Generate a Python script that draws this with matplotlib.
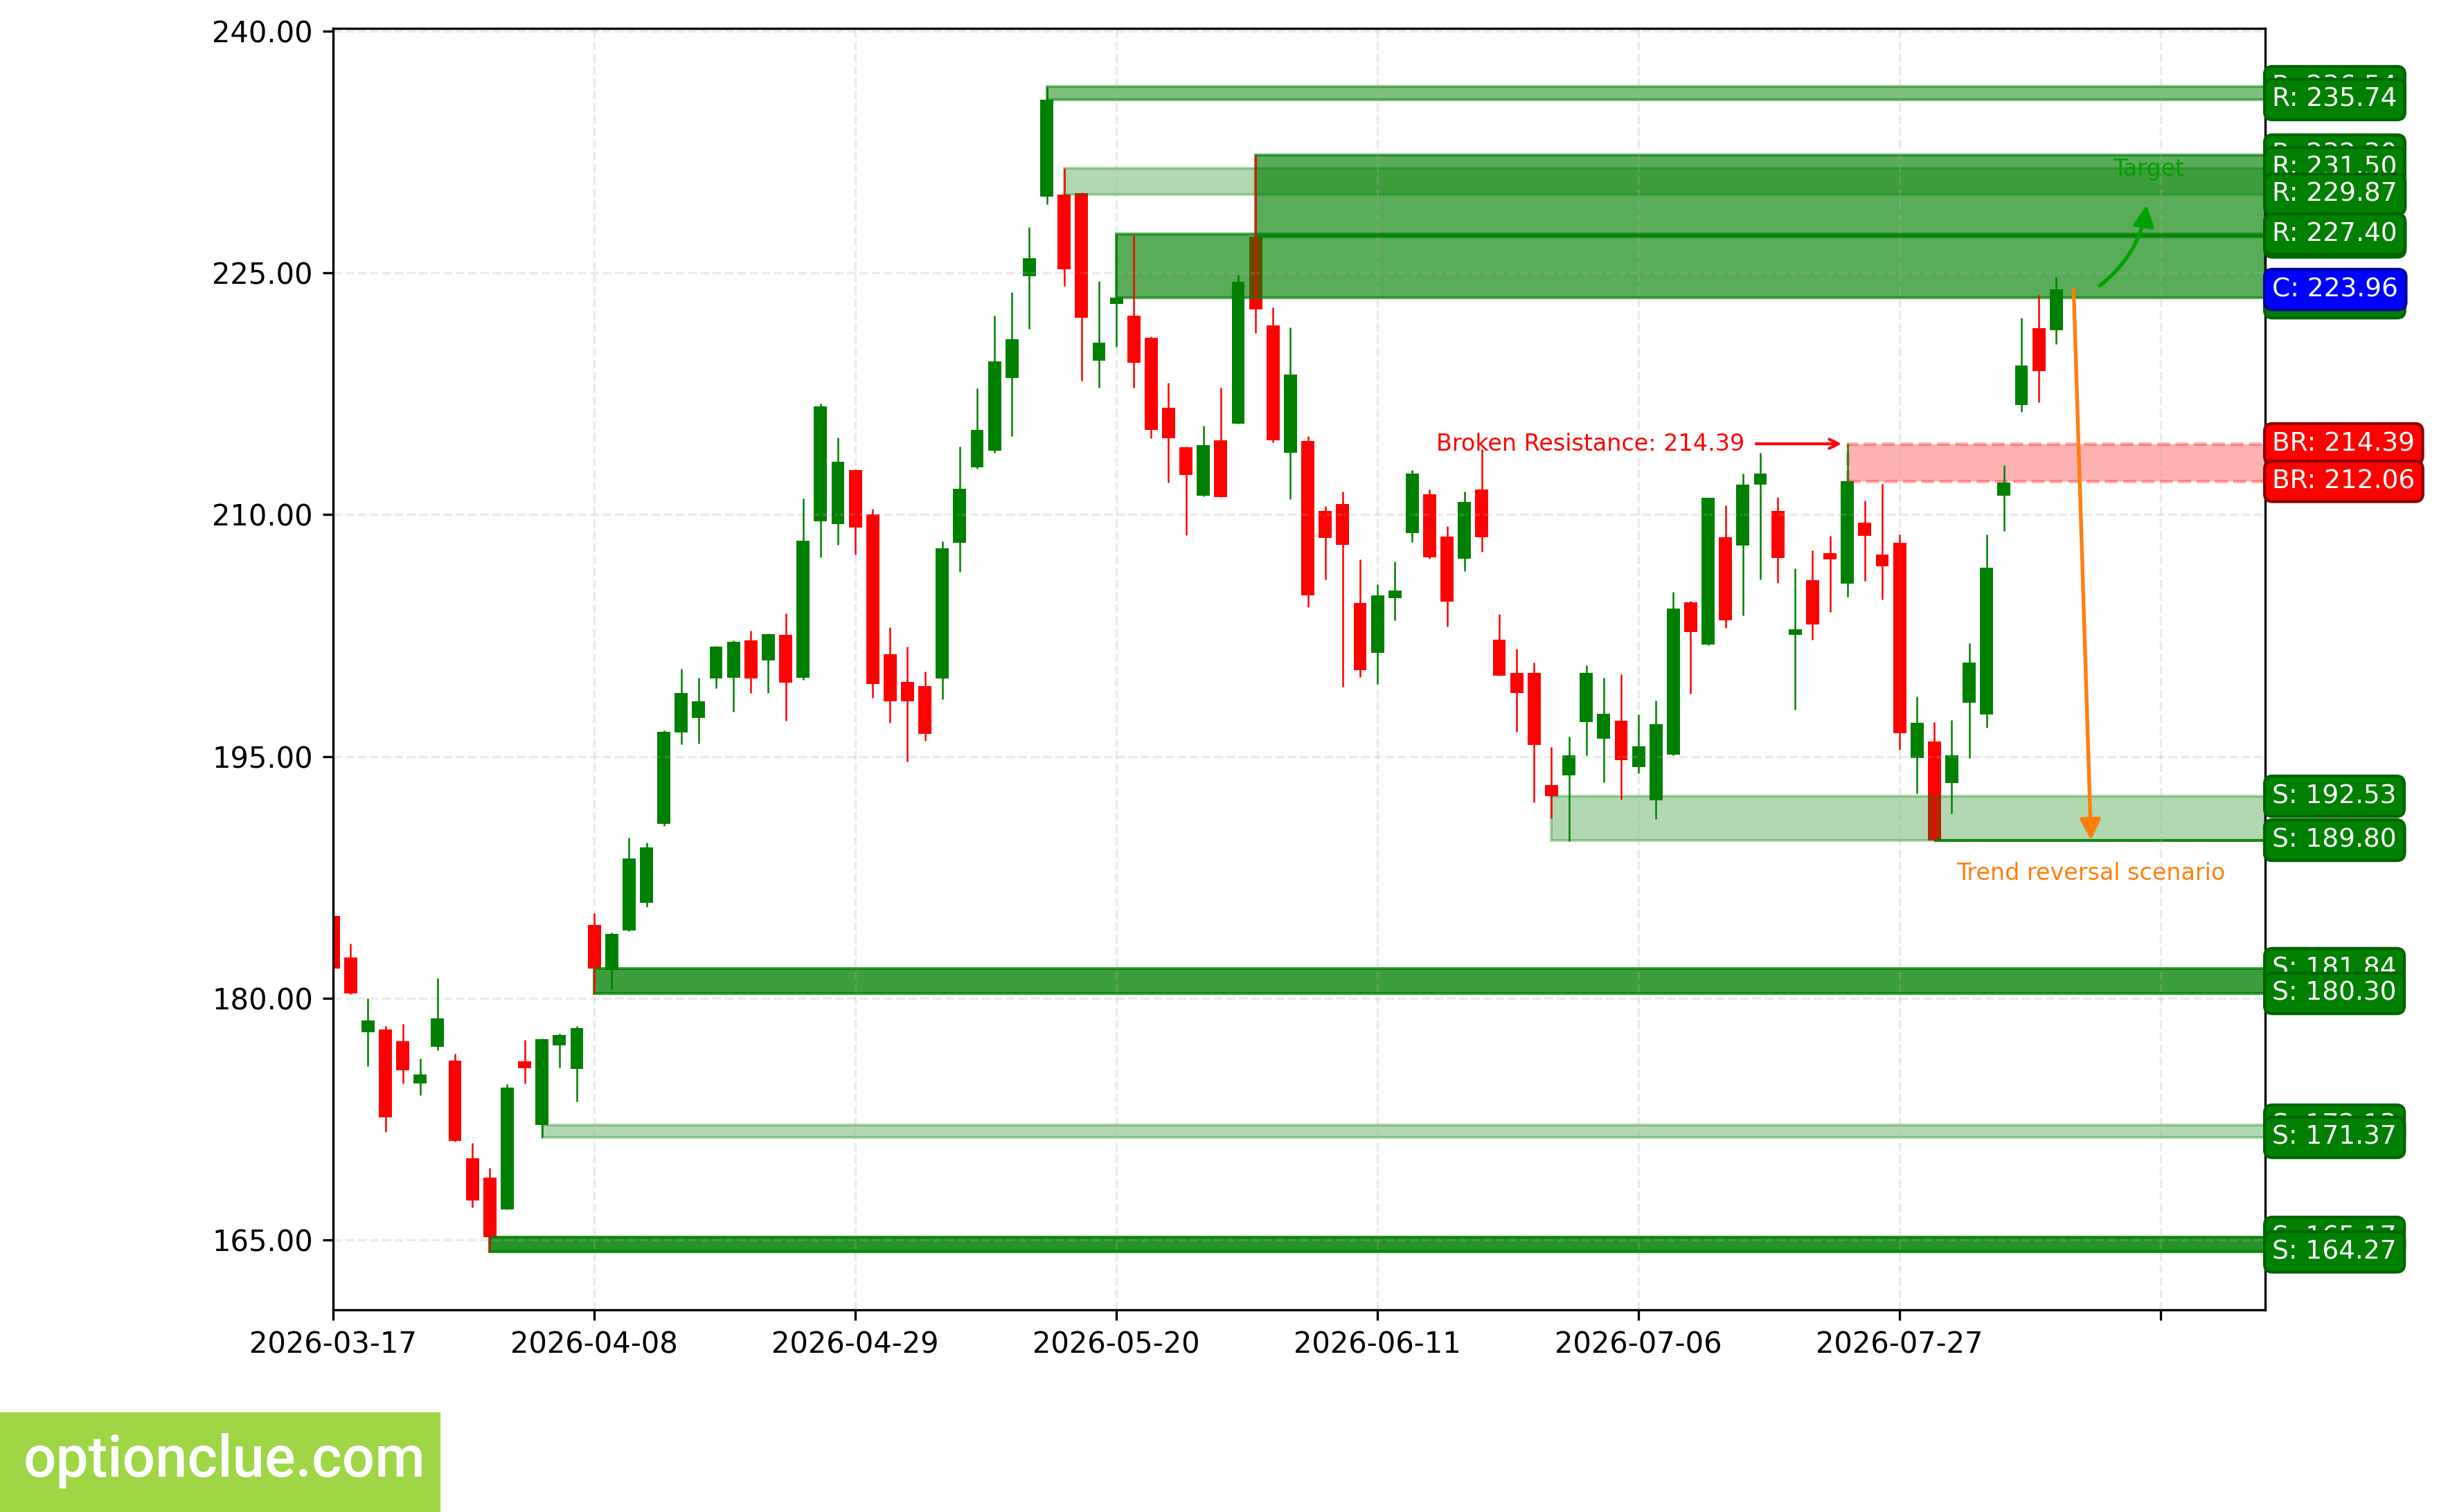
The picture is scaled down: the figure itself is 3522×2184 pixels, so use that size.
import numpy as np
import pandas as pd
import matplotlib
matplotlib.use("Agg")
import matplotlib.pyplot as plt
from matplotlib.patches import Rectangle

# ---------------- data ----------------
opens = [185.11, 182.53, 177.89, 178.07, 177.34, 174.73, 177.01, 176.13, 170.08, 168.87,
         166.92, 176.09, 172.13, 177.07, 175.61, 184.54, 181.74, 184.20, 185.92, 190.80,
         196.48, 197.37, 199.82, 199.90, 202.20, 200.94, 202.56, 199.90, 209.59, 209.41,
         212.78, 210.00, 201.36, 199.60, 199.38, 199.82, 208.24, 212.94, 213.97, 218.49,
         224.80, 229.71, 229.87, 229.92, 219.53, 223.06, 222.35, 220.97, 216.61, 214.19,
         211.19, 214.61, 215.62, 227.22, 221.75, 213.83, 214.56, 210.23, 210.66, 204.53,
         201.42, 204.81, 208.86, 211.25, 208.63, 207.27, 211.55, 202.26, 200.19, 200.16,
         193.22, 193.81, 197.14, 196.12, 197.23, 194.36, 192.29, 195.11, 204.54, 201.92,
         208.61, 208.09, 211.88, 210.24, 202.56, 205.92, 207.62, 205.73, 209.50, 207.52,
         208.26, 194.90, 195.91, 193.35, 198.34, 197.62, 211.19, 216.80, 221.57, 221.42]
highs = [185.25, 183.39, 180.00, 178.26, 178.41, 176.26, 181.23, 176.55, 171.02, 169.48,
         174.67, 177.41, 177.49, 177.80, 178.26, 185.27, 184.07, 189.98, 189.64, 196.62,
         200.45, 199.90, 201.85, 202.20, 202.82, 202.62, 203.88, 210.99, 216.87, 214.76,
         212.80, 210.34, 203.03, 201.79, 200.27, 208.32, 214.24, 217.82, 222.33, 223.79,
         227.85, 236.54, 231.50, 229.99, 224.50, 227.40, 227.30, 221.04, 218.19, 214.20,
         215.52, 217.89, 224.87, 232.30, 222.83, 221.62, 214.87, 210.51, 211.44, 207.23,
         205.68, 207.11, 212.75, 211.55, 209.27, 211.43, 214.05, 203.81, 201.69, 200.83,
         195.59, 196.23, 200.67, 199.89, 200.10, 197.60, 198.48, 205.22, 204.63, 211.05,
         210.59, 212.55, 213.84, 211.10, 206.66, 207.78, 208.69, 214.39, 210.88, 211.91,
         208.76, 198.72, 197.12, 197.26, 202.01, 208.76, 213.08, 222.21, 223.64, 224.76]
lows = [181.80, 180.25, 175.77, 171.69, 174.73, 173.97, 176.78, 171.13, 167.01, 164.27,
        166.90, 174.73, 171.37, 175.69, 173.62, 180.30, 180.57, 184.15, 185.65, 190.70,
        195.75, 195.79, 199.24, 197.78, 198.95, 198.95, 197.21, 199.76, 207.34, 208.14,
        207.53, 198.65, 197.09, 194.70, 195.99, 198.55, 206.47, 212.84, 213.83, 214.87,
        221.52, 229.26, 224.19, 218.32, 217.87, 220.41, 217.87, 214.74, 211.97, 208.74,
        211.14, 211.09, 215.62, 221.27, 214.46, 210.96, 204.28, 205.97, 199.34, 199.92,
        199.51, 203.44, 208.31, 207.27, 203.04, 206.49, 207.70, 199.99, 196.55, 192.13,
        191.18, 189.76, 195.07, 193.41, 192.34, 193.95, 191.13, 195.05, 198.91, 201.90,
        202.95, 203.75, 205.97, 205.75, 197.91, 202.25, 203.94, 204.92, 205.90, 204.75,
        195.40, 192.71, 189.80, 191.47, 194.90, 196.79, 209.00, 216.37, 216.96, 220.59]
closes = [181.86, 180.29, 178.62, 172.62, 175.54, 175.27, 178.74, 171.17, 167.47, 165.17,
          174.44, 175.67, 177.45, 177.72, 178.14, 181.84, 183.97, 188.66, 189.35, 196.55,
          198.95, 198.43, 201.79, 202.13, 199.82, 202.60, 199.56, 208.36, 216.69, 213.26,
          209.19, 199.50, 198.42, 198.42, 196.42, 207.93, 211.58, 215.27, 219.49, 220.87,
          225.88, 235.74, 225.20, 222.20, 220.66, 223.45, 219.40, 215.24, 214.74, 212.47,
          214.31, 211.09, 224.42, 222.73, 214.61, 218.70, 205.01, 208.54, 208.11, 200.35,
          204.97, 205.27, 212.53, 207.34, 204.60, 210.77, 208.59, 199.99, 198.92, 195.70,
          192.53, 195.07, 200.19, 197.66, 194.75, 195.62, 197.02, 204.19, 202.71, 211.03,
          203.46, 211.86, 212.55, 207.31, 202.87, 203.20, 207.21, 212.06, 208.66, 206.78,
          196.43, 197.07, 189.80, 195.09, 200.82, 206.71, 211.98, 219.25, 218.90, 223.96]

start_date = "2026-03-17"
market_holidays = ["2026-04-03", "2026-05-25", "2026-06-19", "2026-07-03"]
dates = pd.bdate_range(start_date, periods=len(closes), freq="C", holidays=market_holidays)
date_labels = [d.strftime("%Y-%m-%d") for d in dates]

# support / resistance zones (drawing order)
zone_start = [41, 53, 42, 45, 9, 12, 15, 70, 92]
zone_low = [235.74, 227.22, 229.87, 223.45, 164.27, 171.37, 180.30, 189.80, 189.80]
zone_high = [236.54, 232.30, 231.50, 227.40, 165.17, 172.13, 181.84, 192.53, 189.80]
zone_kind = ["R", "R", "R", "R", "S", "S", "S", "S", "S"]
zone_alpha = [0.5, 0.65, 0.3, 0.65, 0.85, 0.3, 0.76, 0.3, 0.85]

br_start = 87
br_low = 212.06
br_high = 214.39

last_close = closes[-1]
scenario_target = 189.80

# ---------------- figure ----------------
fig = plt.figure(figsize=(11.74, 7.28), dpi=300)
ax = fig.add_axes([0.1366, 0.1335, 0.9287 - 0.1366, 0.9812 - 0.1335])

n = len(closes)
x = np.arange(n)
body_w = 0.75
for i in range(n):
    o, c = opens[i], closes[i]
    col = "green" if c >= o else "red"
    ax.add_patch(Rectangle((i - body_w / 2, min(o, c)), body_w, max(abs(c - o), 0.06),
                           facecolor=col, edgecolor="none", zorder=1))
wick_colors = ["green" if closes[i] >= opens[i] else "red" for i in range(n)]
ax.vlines(x, lows, highs, colors=wick_colors, lw=0.6, zorder=2)

x_right = n + 11
for s, lo, hi, a in zip(zone_start, zone_low, zone_high, zone_alpha):
    ax.add_patch(Rectangle((s, lo), x_right - s, hi - lo, facecolor="green",
                           edgecolor="green", alpha=a, lw=1.0, zorder=1))

ax.add_patch(Rectangle((br_start, br_low), x_right - br_start, br_high - br_low,
                       facecolor="red", edgecolor="red", alpha=0.3, lw=1.2,
                       linestyle="--", zorder=1))

# axes setup
ax.set_xlim(0, x_right)
ymin, ymax = min(lows), max(highs)
rng = ymax - ymin
ax.set_ylim(ymin - 0.05 * rng, ymax + 0.05 * rng)
ticks = list(range(0, x_right, 15))
ax.set_xticks(ticks)
ax.set_xticklabels([date_labels[t] if t < n else "" for t in ticks], fontsize=10)
ax.set_yticks([165, 180, 195, 210, 225, 240])
ax.set_yticklabels([f"{v:.2f}" for v in [165, 180, 195, 210, 225, 240]], fontsize=10)
ax.grid(True, linestyle="--", alpha=0.25)


def side_label(price, text, fc, ec):
    ax.annotate(text, xy=(1, price), xycoords=("axes fraction", "data"),
                xytext=(2.5, 0), textcoords="offset points", ha="left", va="center",
                fontsize=9, color="white", annotation_clip=False, zorder=6,
                bbox=dict(boxstyle="round,pad=0.3", fc=fc, ec=ec, lw=1.0))


for lo, hi, k in zip(zone_low, zone_high, zone_kind):
    side_label(hi, f"{k}: {hi:.2f}", "green", "#006400")
    side_label(lo, f"{k}: {lo:.2f}", "green", "#006400")
side_label(br_high, f"BR: {br_high:.2f}", "red", "#8B0000")
side_label(br_low, f"BR: {br_low:.2f}", "red", "#8B0000")
side_label(last_close, f"C: {last_close:.2f}", "blue", "#0000A0")

# broken resistance annotation
ax.annotate(f"Broken Resistance: {br_high:.2f}", xy=(br_start, br_high),
            xytext=(br_start - 5.9, br_high), ha="right", va="center",
            color="red", fontsize=8,
            arrowprops=dict(arrowstyle="->", color="red", lw=1.0))

# target arrow
ax.annotate("", xy=(n + 4.2, 229.2), xytext=(n + 1.5, 224.2),
            arrowprops=dict(arrowstyle="-|>", color="#00A000", lw=1.3,
                            mutation_scale=15, shrinkA=0, shrinkB=0,
                            connectionstyle="arc3,rad=0.2", capstyle="round"))
ax.text(n + 4.3, 231.4, "Target", color="#00A000", fontsize=8, ha="center", va="center")

# trend reversal arrow
ax.annotate("", xy=(n + 1.0, scenario_target), xytext=(n, last_close),
            arrowprops=dict(arrowstyle="-|>", color="#FF7F0E", lw=1.3,
                            mutation_scale=15, shrinkA=0, shrinkB=0, capstyle="round"))
ax.text(n + 1.0, 187.76, "Trend reversal scenario", color="#FF7F0E", fontsize=8,
        ha="center", va="center")

# watermark
fig.patches.append(Rectangle((0, 0), 0.1806, 0.0659, transform=fig.transFigure,
                             facecolor="#9FD645", edgecolor="none", zorder=0))
fig.text(0.0095, 0.0234, "optionclue.com", fontsize=20, family="Roboto",
         weight="medium", color="white", va="baseline", ha="left")

fig.savefig("out.png", dpi=300)
